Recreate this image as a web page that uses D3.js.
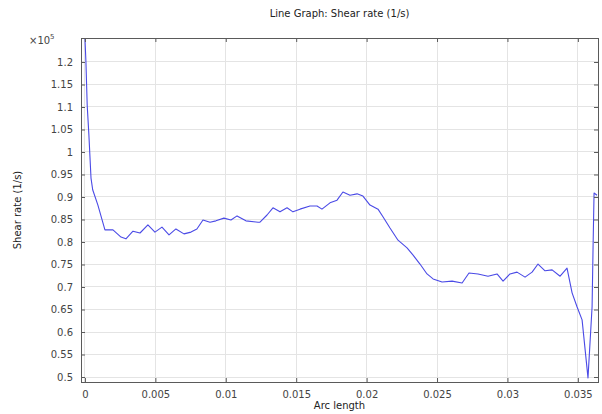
<!DOCTYPE html>
<html>
<head>
<meta charset="utf-8">
<script src="https://cdn.jsdelivr.net/npm/d3@7"></script>
<style>
  html, body { margin: 0; padding: 0; background: #fff; }
  svg { display: block; font-family: "DejaVu Sans", Verdana, sans-serif; }
</style>
</head>
<body>
<svg id="chart" width="602" height="414"></svg>
<script>
// Arc length along the cut line (m)
const arcLength = [
  0, 0.00007, 0.00016, 0.00028, 0.00043, 0.00055, 0.00092, 0.00142, 0.00199, 0.00256,
  0.00291, 0.00341, 0.00391, 0.00447, 0.00497, 0.00547, 0.00597, 0.00646, 0.00703, 0.00753,
  0.00795, 0.00838, 0.00888, 0.00930, 0.00987, 0.01037, 0.01080, 0.01143, 0.01229, 0.01243,
  0.01293, 0.01335, 0.01385, 0.01435, 0.01477, 0.01527, 0.01598, 0.01648, 0.01683, 0.01740,
  0.01790, 0.01832, 0.01882, 0.01932, 0.01974, 0.02024, 0.02081, 0.02116, 0.02166, 0.02223,
  0.02287, 0.02330, 0.02379, 0.02429, 0.02472, 0.02536, 0.02607, 0.02678, 0.02727, 0.02791,
  0.02862, 0.02926, 0.02969, 0.03018, 0.03068, 0.03125, 0.03175, 0.03217, 0.03267, 0.03317,
  0.03374, 0.03423, 0.03459, 0.03494, 0.03530, 0.03572, 0.03601, 0.03608, 0.03615, 0.03636
];

// Shear rate (1/s)
const shearRate = [
  125300, 120000, 110400, 103800, 94200, 91600, 88200, 82700, 82700, 81100,
  80700, 82400, 82000, 83800, 82200, 83300, 81600, 82900, 81800, 82200,
  82900, 84900, 84400, 84700, 85300, 84900, 85800, 84700, 84400, 84400,
  86000, 87600, 86700, 87600, 86700, 87300, 88000, 88000, 87300, 88700,
  89300, 91100, 90400, 90700, 90200, 88200, 87300, 85600, 83100, 80400,
  78700, 77100, 75100, 72900, 71800, 71100, 71300, 70900, 73100, 72900,
  72400, 72900, 71300, 72900, 73300, 72200, 73300, 75100, 73600, 73800,
  72400, 74200, 68700, 65600, 62700, 49800, 65600, 78900, 90900, 90400
];

const xTicks = [0, 0.005, 0.01, 0.015, 0.02, 0.025, 0.03, 0.035];
const xTickLabels = ["0", "0.005", "0.01", "0.015", "0.02", "0.025", "0.03", "0.035"];
const yTicks = [50000, 55000, 60000, 65000, 70000, 75000, 80000, 85000, 90000, 95000,
                100000, 105000, 110000, 115000, 120000];
const yTickLabels = ["0.5", "0.55", "0.6", "0.65", "0.7", "0.75", "0.8", "0.85", "0.9", "0.95",
                     "1", "1.05", "1.1", "1.15", "1.2"];

const titleText = "Line Graph: Shear rate (1/s)";
const xLabel = "Arc length";
const yLabel = "Shear rate (1/s)";

const svg = d3.select("#chart");
const plotLeft = 81, plotRight = 598, plotTop = 38, plotBottom = 382;

const x = d3.scaleLinear().domain([-0.00028, 0.03643]).range([plotLeft, plotRight]);
const y = d3.scaleLinear().domain([48890, 125330]).range([plotBottom, plotTop]);

const gridColor = "#e4e4e4";
const frameColor = "#5a5a5a";
const textColor = "#444";

// grid
const grid = svg.append("g");
grid.selectAll("line.vx").data(xTicks).join("line")
  .attr("x1", d => x(d)).attr("x2", d => x(d))
  .attr("y1", plotTop).attr("y2", plotBottom)
  .attr("stroke", gridColor).attr("stroke-width", 1).attr("shape-rendering", "crispEdges");
grid.selectAll("line.hy").data(yTicks).join("line")
  .attr("y1", d => y(d)).attr("y2", d => y(d))
  .attr("x1", plotLeft).attr("x2", plotRight)
  .attr("stroke", gridColor).attr("stroke-width", 1).attr("shape-rendering", "crispEdges");

// data line
const line = d3.line().x((d, i) => x(arcLength[i])).y(d => y(d));
svg.append("path")
  .datum(shearRate)
  .attr("d", line)
  .attr("fill", "none")
  .attr("stroke", "#4a4ae6")
  .attr("stroke-width", 1.1)
  .attr("stroke-linejoin", "round");

// axes with inward ticks
const fmtX = (d, i) => xTickLabels[i];
const fmtY = (d, i) => yTickLabels[i];

const axB = svg.append("g").attr("transform", `translate(0,${plotBottom})`)
  .call(d3.axisBottom(x).tickValues(xTicks).tickFormat(fmtX).tickSizeInner(-4).tickSizeOuter(0).tickPadding(9));
const axT = svg.append("g").attr("transform", `translate(0,${plotTop})`)
  .call(d3.axisTop(x).tickValues(xTicks).tickFormat("").tickSizeInner(-4).tickSizeOuter(0));
const axL = svg.append("g").attr("transform", `translate(${plotLeft},0)`)
  .call(d3.axisLeft(y).tickValues(yTicks).tickFormat(fmtY).tickSizeInner(-4).tickSizeOuter(0).tickPadding(8));
const axR = svg.append("g").attr("transform", `translate(${plotRight},0)`)
  .call(d3.axisRight(y).tickValues(yTicks).tickFormat("").tickSizeInner(-4).tickSizeOuter(0));

[axB, axT, axL, axR].forEach(g => {
  g.select(".domain").remove();
  g.selectAll(".tick line").attr("stroke", frameColor);
  g.selectAll(".tick text").attr("fill", textColor).attr("font-size", 10)
    .attr("font-family", "'DejaVu Sans', sans-serif");
});

// frame
svg.append("rect")
  .attr("x", plotLeft).attr("y", plotTop)
  .attr("width", plotRight - plotLeft).attr("height", plotBottom - plotTop)
  .attr("fill", "none").attr("stroke", frameColor).attr("stroke-width", 1)
  .attr("shape-rendering", "crispEdges");

// title
svg.append("text")
  .attr("x", (plotLeft + plotRight) / 2).attr("y", 17)
  .attr("text-anchor", "middle").attr("font-size", 10).attr("fill", "#222")
  .text(titleText);

// x label
svg.append("text")
  .attr("x", (plotLeft + plotRight) / 2).attr("y", 409)
  .attr("text-anchor", "middle").attr("font-size", 10).attr("fill", "#222")
  .text(xLabel);

// y label
svg.append("text")
  .attr("transform", `translate(21,${(plotTop + plotBottom) / 2}) rotate(-90)`)
  .attr("text-anchor", "middle").attr("font-size", 10).attr("fill", "#222")
  .text(yLabel);

// exponent marker
const expo = svg.append("text")
  .attr("x", 29).attr("y", 44)
  .attr("font-size", 10).attr("fill", textColor);
expo.append("tspan").text("\u00d710");
expo.append("tspan").attr("dy", -5).attr("font-size", 7).text("5");
</script>
</body>
</html>
